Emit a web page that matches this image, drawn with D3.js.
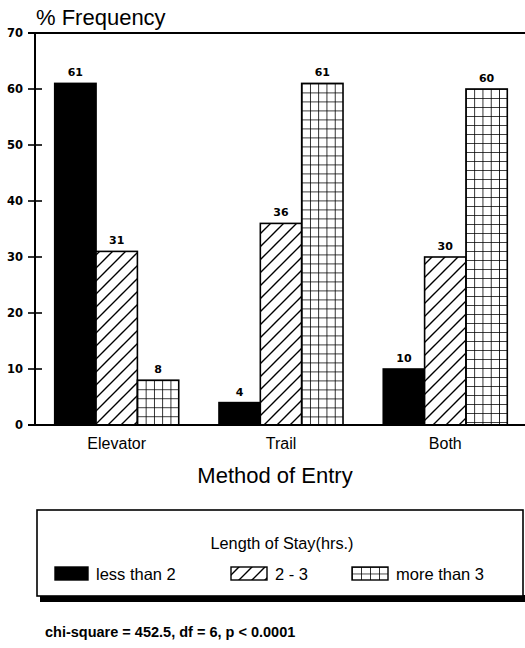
<!DOCTYPE html>
<html><head><meta charset="utf-8">
<script src="https://cdn.jsdelivr.net/npm/d3@7"></script>
<style>body{margin:0;background:#fff}svg{display:block}text{font-family:"Liberation Sans",Arial,sans-serif;fill:#000}</style>
</head><body><svg id="c" width="525" height="648"></svg>
<script>
const categories = ["Elevator", "Trail", "Both"];
const seriesNames = ["less than 2", "2 - 3", "more than 3"];
const lessThan2 = [61, 4, 10];
const twoToThree = [31, 36, 30];
const moreThan3 = [8, 61, 60];
const yTicks = [0, 10, 20, 30, 40, 50, 60, 70];
const series = [lessThan2, twoToThree, moreThan3];

const svg = d3.select("#c");
const defs = svg.append("defs");
const y = d3.scaleLinear().domain([0, 70]).range([425, 33]);
const x0 = d3.scaleBand().domain(categories).range([35, 527]).paddingInner(0.245).paddingOuter(0.12);
const x1 = d3.scaleBand().domain(d3.range(3)).range([0, x0.bandwidth()]);

const hatch = defs.append("pattern").attr("id","hatch").attr("patternUnits","userSpaceOnUse")
  .attr("width",13).attr("height",13);
hatch.append("rect").attr("width",13).attr("height",13).attr("fill","#fff");
hatch.append("path").attr("d","M-1,1 l2,-2 M0,13 l13,-13 M12,14 l2,-2").attr("stroke","#000").attr("stroke-width",1.4);

function gridPattern(id, ox, oy, w, h){
  const p = defs.append("pattern").attr("id",id).attr("patternUnits","userSpaceOnUse")
    .attr("width",w).attr("height",h).attr("x",ox).attr("y",oy);
  p.append("rect").attr("width",w).attr("height",h).attr("fill","#fff");
  p.append("path").attr("d",`M0,0 H${w} M0,0 V${h}`).attr("stroke","#000").attr("stroke-width",1.6);
  return "url(#"+id+")";
}

svg.append("line").attr("x1",28).attr("x2",525).attr("y1",y(70)).attr("y2",y(70)).attr("stroke","#000").attr("stroke-width",2);
svg.append("line").attr("x1",35).attr("x2",35).attr("y1",y(70)).attr("y2",y(0)).attr("stroke","#000").attr("stroke-width",2);

const yAxis = svg.append("g");
yTicks.forEach(t=>{
  if(t>0 && t<70) yAxis.append("line").attr("x1",28).attr("x2",42).attr("y1",y(t)).attr("y2",y(t)).attr("stroke","#000").attr("stroke-width",1.6);
  yAxis.append("text").attr("x",23).attr("y",y(t)).attr("dy","0.36em").attr("text-anchor","end")
    .style("font-family","'DejaVu Sans',sans-serif").attr("font-size",11.5).attr("font-weight","bold").text(t);
});

categories.forEach((c,ci)=>{
  series.forEach((s,si)=>{
    const bx = x0(c)+x1(si), bw = x1.bandwidth(), v = s[ci];
    let fill = "#000";
    if(si===1) fill = "url(#hatch)";
    if(si===2) fill = gridPattern("grid"+ci, bx, y(v), bw/5, 9);
    svg.append("rect").attr("x",bx).attr("y",y(v)).attr("width",bw).attr("height",y(0)-y(v))
      .attr("fill",fill).attr("stroke","#000").attr("stroke-width",1.6);
    svg.append("text").attr("x",bx+bw/2).attr("y",y(v)-7).attr("text-anchor","middle")
      .style("font-family","'DejaVu Sans',sans-serif").attr("font-size",11).attr("font-weight","bold").text(v);
  });
});
svg.append("line").attr("x1",28).attr("x2",525).attr("y1",y(0)).attr("y2",y(0)).attr("stroke","#000").attr("stroke-width",2);

categories.forEach(c=>{
  svg.append("text").attr("x",x0(c)+x0.bandwidth()/2).attr("y",449).attr("text-anchor","middle").attr("font-size",16).text(c);
});
svg.append("text").attr("x",36).attr("y",25).attr("font-size",22).text("% Frequency");
svg.append("text").attr("x",275).attr("y",483).attr("text-anchor","middle").attr("font-size",22).text("Method of Entry");

svg.append("rect").attr("x",40).attr("y",595).attr("width",485).attr("height",7).attr("fill","#000");
svg.append("rect").attr("x",37).attr("y",510).attr("width",486).attr("height",86).attr("fill","#fff").attr("stroke","#000").attr("stroke-width",1.6);
svg.append("text").attr("x",282).attr("y",549).attr("text-anchor","middle").attr("font-size",16.3).text("Length of Stay(hrs.)");
const legX = [55, 231, 352], legW = [33, 36, 36];
seriesNames.forEach((n,i)=>{
  let fill = "#000";
  if(i===1) fill = "url(#hatch)";
  if(i===2) fill = gridPattern("gridL", legX[i], 567, legW[i]/4, 6.5);
  svg.append("rect").attr("x",legX[i]).attr("y",567).attr("width",legW[i]).attr("height",13).attr("fill",fill).attr("stroke","#000").attr("stroke-width",1.4);
  svg.append("text").attr("x",legX[i]+legW[i]+8).attr("y",580).attr("font-size",16.5).text(n);
});
svg.append("text").attr("x",45).attr("y",637).attr("font-size",14.5).attr("font-weight","bold").text("chi-square = 452.5, df = 6, p < 0.0001");
</script></body></html>
